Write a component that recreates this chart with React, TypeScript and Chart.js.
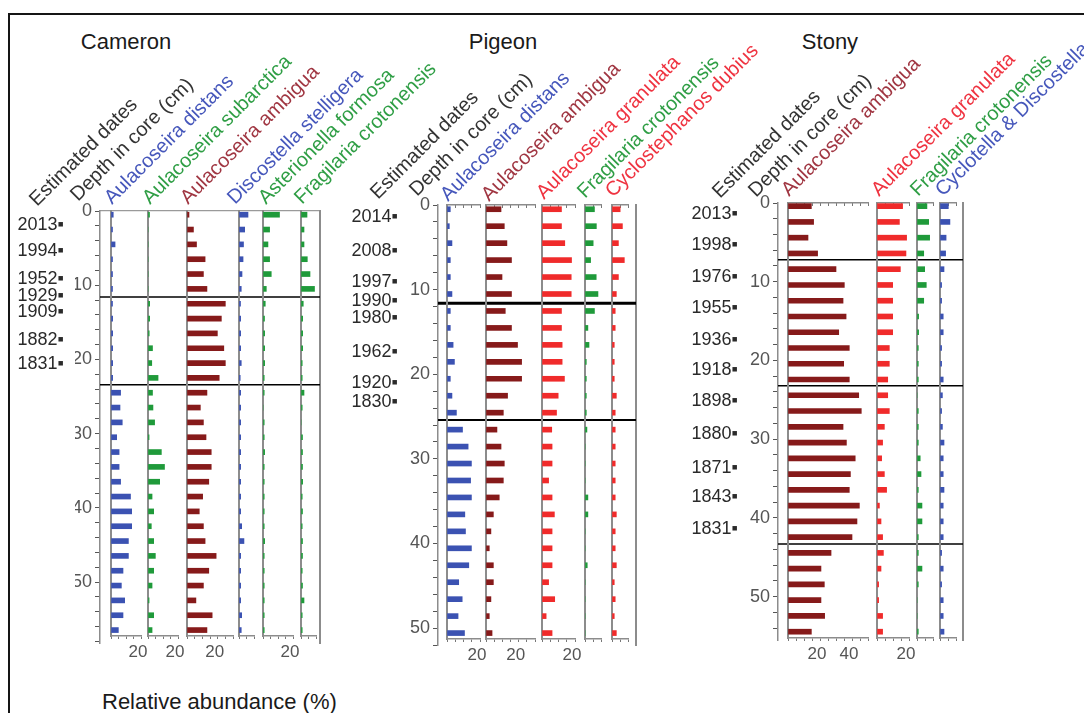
import React, { useEffect, useRef } from 'react';
import { Chart, registerables } from 'chart.js';

Chart.register(...registerables);

const FONT = "'Liberation Sans', Arial, Helvetica, sans-serif";
Chart.defaults.font.family = FONT;

// ---------- colours ----------
const BLUE = '#3b52b2';
const GREEN = '#1f9a3a';
const DRED = '#861a1a';
const RED = '#f02b2b';
const T_BLUE = '#4657bb';
const T_GREEN = '#2f9e45';
const T_DRED = '#a03642';
const T_RED = '#ef3340';
const T_DARK = '#333333';
const AXIS = '#8c8c8c';

// ---------- Cameron ----------
const cameronDepths = [0.5, 2.5, 4.5, 6.5, 8.5, 10.5, 12.5, 14.5, 16.5, 18.5, 20.5, 22.5, 24.5, 26.5, 28.5, 30.5, 32.5, 34.5, 36.5, 38.5, 40.5, 42.5, 44.5, 46.5, 48.5, 50.5, 52.5, 54.5, 56.5];
const cameronDistans = [1.5, 1, 2.7, 1, 1, 1, 1, 1.1, 1.1, 1.1, 1.1, 1.1, 6.4, 6, 7.5, 3.8, 5.4, 5.4, 6.4, 13, 13.8, 13.8, 11.6, 11.6, 8, 6.9, 9.1, 8, 4.9];
const cameronSubarctica = [1, 0, 0, 0, 0, 0, 1.1, 1.1, 0.8, 3, 2.5, 6.7, 3, 3.3, 4.4, 0.7, 8.9, 11, 7.8, 2.7, 3.8, 2.2, 3.8, 4.9, 3.8, 2.7, 0.7, 3.8, 2.7];
const cameronAmbigua = [1.3, 4.2, 6.2, 11.8, 10.7, 13, 25, 22.4, 19.8, 24, 25, 21, 13, 8.7, 10.7, 12.4, 15.8, 15.8, 14.2, 10.2, 8, 10.7, 11.8, 19, 14.2, 10.7, 5.8, 16.4, 13];
const cameronDiscostella = [6, 3.8, 3, 2.7, 2, 1.5, 1, 1.1, 1.1, 1.1, 1.5, 0.8, 1.1, 1.1, 1.1, 1.1, 1.1, 1.1, 1.1, 1.1, 1.1, 1.8, 3.3, 1.1, 1.1, 1.1, 1.1, 1.8, 1.5];
const cameronAsterionella = [11, 4.4, 3.3, 4.4, 5.5, 2.2, 1.5, 1, 1.1, 1.1, 1.1, 0.8, 0.8, 0, 0.8, 0.8, 1.1, 0.8, 0.8, 0.8, 0.8, 0.8, 1.1, 0.8, 0.8, 0.8, 0.8, 0.8, 0.8];
const cameronFragilaria = [4, 2, 2, 4.2, 6, 9, 1.5, 1.1, 1.1, 1.1, 0.8, 0.8, 2, 0.8, 0, 1, 1, 1, 1.1, 0.8, 1, 0.8, 1, 1, 0.8, 1, 2, 0.8, 0.8];
const cameronZones = [11.6, 23.4];
const cameronDates = ['2013', '1994', '1952', '1929', '1909', '1882', '1831'];
const cameronDateDepths = [1.9, 5.4, 9.1, 11.4, 13.6, 17.4, 20.6];
const cameronHeaders = ['Estimated dates', 'Depth in core (cm)', 'Aulacoseira distans', 'Aulacoseira subarctica', 'Aulacoseira ambigua', 'Discostella stelligera', 'Asterionella formosa', 'Fragilaria crotonensis'];

// ---------- Pigeon ----------
const pigeonDepths = [0.5, 2.5, 4.5, 6.5, 8.5, 10.5, 12.5, 14.5, 16.5, 18.5, 20.5, 22.5, 24.5, 26.5, 28.5, 30.5, 32.5, 34.5, 36.5, 38.5, 40.5, 42.5, 44.5, 46.5, 48.5, 50.5];
const pigeonDistans = [2.0, 1.4, 3.0, 2.0, 2.0, 3.0, 2.0, 2.0, 3.7, 4.5, 2.0, 3.0, 5.7, 9.4, 12.8, 14.8, 14.3, 14.8, 10.8, 11.2, 14.8, 13.2, 7.1, 9.2, 6.7, 10.6];
const pigeonAmbigua = [9.2, 11.2, 12.8, 15.6, 9.8, 15.6, 11.8, 15.6, 19.3, 21.8, 21.8, 13.2, 10.6, 6.7, 9.2, 11.2, 10.6, 8.1, 4.5, 3.0, 2.0, 4.5, 4.5, 3.0, 2.0, 3.7];
const pigeonGranulata = [11.8, 11.8, 13.8, 17.9, 17.7, 17.7, 11.8, 11.8, 12.2, 12.2, 13.6, 9.8, 8.8, 5.9, 6.1, 6.1, 4.0, 6.1, 7.5, 6.1, 6.1, 6.1, 4.0, 7.7, 2.5, 6.1];
const pigeonFragilaria = [5.9, 7.1, 5.1, 3.5, 7.0, 8.1, 5.9, 1.8, 2.5, 0.8, 0.8, 0.8, 0.8, 1.2, 0, 0, 0, 1.8, 1.8, 0, 0, 1.4, 0, 0, 0, 0];
const pigeonCyclostephanos = [5.1, 6.5, 4.0, 7.7, 4.0, 2.7, 2.0, 2.0, 1.4, 1.4, 1.4, 2.7, 2.0, 2.0, 2.0, 2.0, 2.0, 2.0, 2.7, 2.0, 2.0, 2.7, 1.4, 2.0, 1.4, 2.7];
const pigeonZones = [11.6, 25.4];
const pigeonDates = ['2014', '2008', '1997', '1990', '1980', '1962', '1920', '1830'];
const pigeonDateDepths = [1.4, 5.4, 9.1, 11.3, 13.3, 17.4, 21.0, 23.3];
const pigeonHeaders = ['Estimated dates', 'Depth in core (cm)', 'Aulacoseira distans', 'Aulacoseira ambigua', 'Aulacoseira granulata', 'Fragilaria crotonensis', 'Cyclostephanos dubius'];

// ---------- Stony ----------
const stonyDepths = [0.4, 2.4, 4.4, 6.4, 8.4, 10.4, 12.4, 14.4, 16.4, 18.4, 20.4, 22.4, 24.4, 26.4, 28.4, 30.4, 32.4, 34.4, 36.4, 38.4, 40.4, 42.4, 44.4, 46.4, 48.4, 50.4, 52.4, 54.4];
const stonyAmbigua = [14.6, 16, 12.5, 18.5, 30, 35.2, 34.4, 36.3, 31.7, 38.3, 34.8, 38.3, 44.2, 45.8, 34.4, 36.5, 42, 39, 38.3, 44.6, 43.1, 40, 26.9, 20.6, 22.7, 20.6, 22.9, 14.6];
const stonyGranulata = [16, 14, 18.5, 18.1, 14.6, 9.8, 9.8, 9.8, 9.8, 7.7, 7.7, 6.7, 6.7, 7.7, 4.6, 3.5, 2.9, 4.6, 6, 1.5, 2.5, 3.5, 4, 2.5, 1, 1, 3.5, 3.5];
const stonyFragilaria = [6.2, 7.3, 7.9, 4.2, 4.8, 5.8, 4.2, 1, 1, 0.8, 0.8, 0.8, 0, 0.8, 0.8, 0.8, 2, 2.5, 0.8, 3.1, 3.1, 0.8, 0.8, 3.1, 0.8, 0, 0, 0.8];
const stonyCyclotella = [5.2, 6.2, 3.8, 3.5, 2.5, 1, 1, 2, 2, 1, 1, 2, 1.5, 1, 1.5, 2.5, 2, 2, 2.5, 2, 2, 2, 1, 2, 1, 2, 2, 2.5];
const stonyZones = [7.2, 23.2, 43.3];
const stonyDates = ['2013', '1998', '1976', '1955', '1936', '1918', '1898', '1880', '1871', '1843', '1831'];
const stonyDateDepths = [1.4, 5.4, 9.4, 13.4, 17.4, 21.2, 25.2, 29.3, 33.7, 37.3, 41.4];
const stonyHeaders = ['Estimated dates', 'Depth in core (cm)', 'Aulacoseira ambigua', 'Aulacoseira granulata', 'Fragilaria crotonensis', 'Cyclotella & Discostella'];

const lakeTitles = ['Cameron', 'Pigeon', 'Stony'];
const xAxisTitle = 'Relative abundance (%)';

// ---------- layout (positions/sizes) ----------
type Strip = { values: number[]; color: string; origin: number; max: number };
type Lake = {
  depths: number[];
  zones: number[];
  zoneWidths: number[];
  dates: string[];
  dateDepths: number[];
  headers: string[];
  headerColors: string[];
  headerAnchors: number[][];
  title: string;
  titleX: number;
  y0: number;
  ppc: number;
  stripMax: number;
  axisMax: number;
  left: number;
  datesW: number;
  axisX: number;
  border: number;
  ppp: number;
  dashedTop: boolean;
  strips: Strip[];
};

const LAKES: Lake[] = [
  {
    depths: cameronDepths,
    zones: cameronZones,
    zoneWidths: [1.5, 1.5],
    dates: cameronDates,
    dateDepths: cameronDateDepths,
    headers: cameronHeaders,
    headerColors: [T_DARK, T_DARK, T_BLUE, T_GREEN, T_DRED, T_BLUE, T_GREEN, T_GREEN],
    headerAnchors: [[37, 207], [78, 202], [112, 205], [150, 205], [188, 205], [235, 205], [266, 205], [302, 205]],
    title: lakeTitles[0],
    titleX: 126,
    y0: 211,
    ppc: 7.42,
    stripMax: 57.3,
    axisMax: 58.2,
    left: 10,
    datesW: 65,
    axisX: 100,
    border: 320,
    ppp: 1.52,
    dashedTop: true,
    strips: [
      { values: cameronDistans, color: BLUE, origin: 110.7, max: 20 },
      { values: cameronSubarctica, color: GREEN, origin: 148.3, max: 20 },
      { values: cameronAmbigua, color: DRED, origin: 186.7, max: 30 },
      { values: cameronDiscostella, color: BLUE, origin: 239.3, max: 10 },
      { values: cameronAsterionella, color: GREEN, origin: 263.3, max: 20 },
      { values: cameronFragilaria, color: GREEN, origin: 300.7, max: 10 },
    ],
  },
  {
    depths: pigeonDepths,
    zones: pigeonZones,
    zoneWidths: [3, 2],
    dates: pigeonDates,
    dateDepths: pigeonDateDepths,
    headers: pigeonHeaders,
    headerColors: [T_DARK, T_DARK, T_BLUE, T_DRED, T_RED, T_GREEN, T_RED],
    headerAnchors: [[378, 200], [417, 197], [448, 202], [489, 202], [544, 200], [585, 199], [613, 198]],
    title: lakeTitles[1],
    titleX: 503,
    y0: 205,
    ppc: 8.47,
    stripMax: 51.2,
    axisMax: 52,
    left: 345,
    datesW: 64,
    axisX: 438,
    border: 636,
    ppp: 1.64,
    dashedTop: false,
    strips: [
      { values: pigeonDistans, color: BLUE, origin: 446.7, max: 20 },
      { values: pigeonAmbigua, color: DRED, origin: 486.3, max: 30 },
      { values: pigeonGranulata, color: RED, origin: 541.7, max: 20 },
      { values: pigeonFragilaria, color: GREEN, origin: 585, max: 10 },
      { values: pigeonCyclostephanos, color: RED, origin: 611.7, max: 10 },
    ],
  },
  {
    depths: stonyDepths,
    zones: stonyZones,
    zoneWidths: [1.5, 1.5, 1.5],
    dates: stonyDates,
    dateDepths: stonyDateDepths,
    headers: stonyHeaders,
    headerColors: [T_DARK, T_DARK, T_DRED, T_RED, T_GREEN, T_BLUE],
    headerAnchors: [[720, 199], [756, 198], [789, 197], [879, 197], [918, 197], [943, 197]],
    title: lakeTitles[2],
    titleX: 830,
    y0: 203,
    ppc: 7.88,
    stripMax: 55.2,
    axisMax: 55.5,
    left: 684,
    datesW: 65,
    axisX: 778,
    border: 963,
    ppp: 1.59,
    dashedTop: false,
    strips: [
      { values: stonyAmbigua, color: DRED, origin: 788.3, max: 50 },
      { values: stonyGranulata, color: RED, origin: 876.7, max: 20 },
      { values: stonyFragilaria, color: GREEN, origin: 916.7, max: 10 },
      { values: stonyCyclotella, color: BLUE, origin: 940, max: 10 },
    ],
  },
];

// zone boundary lines, drawn through the depth scale
const zonePlugin = {
  id: 'zones',
  afterDraw(chart: any, _args: any, opts: any) {
    const { ctx, chartArea } = chart;
    const y = chart.scales.y;
    (opts.depths || []).forEach((d: number, i: number) => {
      const py = y.getPixelForValue(d);
      ctx.save();
      ctx.strokeStyle = '#000';
      ctx.lineWidth = opts.widths[i];
      ctx.beginPath();
      ctx.moveTo(chartArea.left, py);
      ctx.lineTo(chartArea.right, py);
      ctx.stroke();
      ctx.restore();
    });
  },
};

function DepthChart({ lake }: { lake: Lake }) {
  const ref = useRef<HTMLCanvasElement>(null);
  const width = Math.round(lake.border + 2 - lake.left);
  const height = Math.round(lake.axisMax * lake.ppc) + 24;
  useEffect(() => {
    const depthW = lake.axisX - lake.left - lake.datesW;
    const chart = new Chart(ref.current as HTMLCanvasElement, {
      type: 'scatter',
      data: { datasets: [] },
      options: {
        responsive: false,
        animation: false,
        devicePixelRatio: 1,
        events: [],
        layout: { padding: { left: 0, right: 2, top: 12, bottom: 12 } },
        plugins: {
          legend: { display: false },
          tooltip: { enabled: false },
          zones: { depths: lake.zones, widths: lake.zoneWidths },
        } as any,
        scales: {
          x: {
            type: 'linear',
            position: 'top',
            min: 0,
            max: 1,
            display: lake.dashedTop,
            ticks: { display: false },
            grid: { display: false },
            border: { display: true, color: '#9a9a9a', width: 1.2, dash: [3, 3] },
            afterFit: (s: any) => { s.height = 0; s.paddingLeft = 0; s.paddingRight = 0; },
          },
          y: {
            type: 'linear',
            axis: 'y',
            position: 'left',
            reverse: true,
            offset: false,
            min: 0,
            max: lake.axisMax,
            weight: 0,
            ticks: {
              stepSize: 2,
              autoSkip: false,
              includeBounds: false,
              callback: (v: any) => (Number(v) % 10 === 0 ? String(v) : ''),
              font: { size: 18, family: FONT },
              color: '#555',
              padding: 3,
            },
            grid: { display: true, drawOnChartArea: false, drawTicks: true, tickLength: 5, color: '#555', lineWidth: 1 },
            border: { display: true, color: AXIS, width: 1.5 },
            afterFit: (s: any) => { s.width = depthW; s.paddingTop = 0; s.paddingBottom = 0; },
          },
          dates: {
            type: 'linear',
            axis: 'y',
            position: 'left',
            reverse: true,
            offset: false,
            min: 0,
            max: lake.axisMax,
            weight: 1,
            afterBuildTicks: (s: any) => { s.ticks = lake.dateDepths.map((v) => ({ value: v })); },
            ticks: {
              autoSkip: false,
              callback: (_v: any, i: number) => lake.dates[i] + '\u25AA',
              font: { size: 18, family: FONT },
              color: '#2a2a2a',
              padding: 3,
            },
            grid: { display: false },
            border: { display: false },
            afterFit: (s: any) => { s.width = lake.datesW; s.paddingTop = 0; s.paddingBottom = 0; },
          },
          yR: {
            type: 'linear',
            axis: 'y',
            position: 'right',
            reverse: true,
            offset: false,
            min: 0,
            max: lake.axisMax,
            ticks: { display: false },
            grid: { display: false },
            border: { display: true, color: AXIS, width: 2 },
            afterFit: (s: any) => { s.width = 0; s.paddingTop = 0; s.paddingBottom = 0; },
          },
        } as any,
      },
      plugins: [zonePlugin],
    });
    return () => chart.destroy();
  }, [lake]);
  return (
    <canvas
      ref={ref}
      width={width}
      height={height}
      style={{ position: 'absolute', left: lake.left, top: lake.y0 - 12, width, height }}
    />
  );
}

function StripChart({ lake, strip }: { lake: Lake; strip: Strip }) {
  const ref = useRef<HTMLCanvasElement>(null);
  const left = Math.round(strip.origin) - 3;
  const plotW = Math.round(strip.max * lake.ppp);
  const width = plotW + 3 + 14;
  const plotH = Math.round(lake.stripMax * lake.ppc);
  const height = plotH + 36;
  const top = lake.y0 - 6;
  useEffect(() => {
    const chart = new Chart(ref.current as HTMLCanvasElement, {
      type: 'bar',
      data: {
        datasets: [
          {
            data: lake.depths.map((d, i) => ({ x: strip.values[i], y: d })),
            backgroundColor: strip.color,
            borderWidth: 0,
            barThickness: 5,
          } as any,
        ],
      },
      options: {
        indexAxis: 'y',
        responsive: false,
        animation: false,
        devicePixelRatio: 1,
        events: [],
        layout: { padding: { left: 3, right: 14, top: 0, bottom: 0 } },
        plugins: { legend: { display: false }, tooltip: { enabled: false } },
        scales: {
          x: {
            type: 'linear',
            position: 'bottom',
            offset: false,
            min: 0,
            max: strip.max,
            ticks: {
              stepSize: 5,
              autoSkip: false,
              maxRotation: 0,
              includeBounds: false,
              labelOffset: -3,
              callback: (v: any) => (Number(v) === 20 || Number(v) === 40 ? String(v) : ''),
              font: { size: 17, family: FONT },
              color: '#555',
              padding: 3,
            },
            grid: { display: true, offset: false, drawOnChartArea: false, drawTicks: true, tickLength: 3, color: '#777' },
            border: { display: true, color: AXIS, width: 1.5 },
            afterFit: (s: any) => { s.height = 30; s.paddingLeft = 0; s.paddingRight = 0; },
          },
          x2: {
            type: 'linear',
            axis: 'x',
            position: 'top',
            offset: false,
            min: 0,
            max: strip.max,
            ticks: { display: false, stepSize: 5 },
            grid: { display: !lake.dashedTop, offset: false, drawOnChartArea: false, drawTicks: true, tickLength: -3, color: '#777' },
            border: { display: !lake.dashedTop, color: AXIS, width: 1.5 },
            afterFit: (s: any) => { s.height = 6; s.paddingLeft = 0; s.paddingRight = 0; },
          },
          y: {
            type: 'linear',
            position: 'left',
            reverse: true,
            offset: false,
            min: 0,
            max: lake.stripMax,
            ticks: { display: false },
            grid: { display: false, offset: false },
            border: { display: true, color: AXIS, width: 2 },
            afterFit: (s: any) => { s.width = 0; s.paddingTop = 0; s.paddingBottom = 0; },
          },
        } as any,
      },
    });
    return () => chart.destroy();
  }, [lake, strip]);
  return (
    <canvas
      ref={ref}
      width={width}
      height={height}
      style={{ position: 'absolute', left, top, width, height }}
    />
  );
}

const BASE = 0.8465; // baseline position inside a 1em line box (Arial metrics)

function RotLabel({ text, color, x, y }: { text: string; color: string; x: number; y: number }) {
  const fs = 20;
  return (
    <div
      style={{
        position: 'absolute',
        left: x,
        top: y,
        width: 0,
        height: 0,
        transform: 'rotate(-45deg)',
        transformOrigin: '0 0',
      }}
    >
      <span
        style={{
          position: 'absolute',
          left: 0,
          top: -BASE * fs,
          fontSize: fs,
          lineHeight: `${fs}px`,
          whiteSpace: 'nowrap',
          color,
          fontFamily: FONT,
        }}
      >
        {text}
      </span>
    </div>
  );
}

export default function App() {
  return (
    <div
      style={{
        position: 'fixed',
        left: 0,
        top: 0,
        width: 1084,
        height: 713,
        overflow: 'hidden',
        background: '#fff',
        fontFamily: FONT,
      }}
    >
      <div
        style={{
          position: 'absolute',
          left: 8,
          top: 13,
          width: 1200,
          height: 800,
          border: '2px solid #151515',
          boxSizing: 'border-box',
        }}
      />
      {LAKES.map((lake, li) => (
        <DepthChart key={'d' + li} lake={lake} />
      ))}
      {LAKES.map((lake, li) =>
        lake.strips.map((s, si) => <StripChart key={'s' + li + '-' + si} lake={lake} strip={s} />)
      )}
      {LAKES.map((lake, li) => (
        <div
          key={'t' + li}
          style={{
            position: 'absolute',
            left: lake.titleX,
            top: 50 - BASE * 22,
            fontSize: 22,
            lineHeight: '22px',
            color: '#1a1a1a',
            whiteSpace: 'nowrap',
            transform: 'translateX(-50%)',
          }}
        >
          {lake.title}
        </div>
      ))}
      {LAKES.map((lake, li) =>
        lake.headers.map((h, hi) => (
          <RotLabel
            key={'h' + li + '-' + hi}
            text={h}
            color={lake.headerColors[hi]}
            x={lake.headerAnchors[hi][0]}
            y={lake.headerAnchors[hi][1]}
          />
        ))
      )}
      <div
        style={{
          position: 'absolute',
          left: 102,
          top: 710 - BASE * 22,
          fontSize: 22,
          lineHeight: '22px',
          color: '#1a1a1a',
          whiteSpace: 'nowrap',
        }}
      >
        {xAxisTitle}
      </div>
    </div>
  );
}
